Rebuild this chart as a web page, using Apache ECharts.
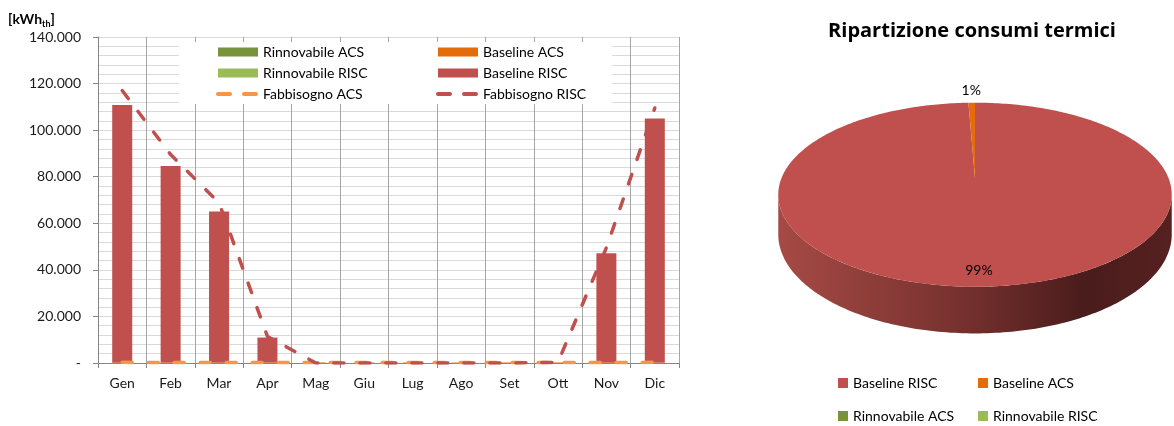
<!DOCTYPE html>
<html>
<head>
<meta charset="utf-8">
<script src="https://cdn.jsdelivr.net/npm/echarts@6/dist/echarts.min.js"></script>
<style>
  html, body { margin: 0; padding: 0; background: #ffffff; }
  #chart { width: 1174px; height: 426px; }
</style>
</head>
<body>
<div id="chart"></div>
<script>
// Monthly thermal consumption [kWh_th]
const months = ['Gen', 'Feb', 'Mar', 'Apr', 'Mag', 'Giu', 'Lug', 'Ago', 'Set', 'Ott', 'Nov', 'Dic'];
const rinnovabileAcs  = [0, 0, 0, 0, 0, 0, 0, 0, 0, 0, 0, 0];
const rinnovabileRisc = [0, 0, 0, 0, 0, 0, 0, 0, 0, 0, 0, 0];
const baselineAcs     = [250, 240, 250, 230, 220, 200, 190, 190, 210, 230, 240, 250];
const baselineRisc    = [110600, 84400, 64800, 10700, 0, 0, 0, 0, 0, 0, 46900, 104700];
const fabbisognoAcs   = [270, 260, 270, 250, 240, 220, 210, 210, 230, 250, 260, 270];
const fabbisognoRisc  = [117000, 89500, 68800, 11400, 0, 0, 0, 0, 0, 300, 49500, 109500];

// Pie slices in drawing order (clockwise from 12 o'clock)
const pieNames = ['Baseline RISC', 'Baseline ACS', 'Rinnovabile ACS', 'Rinnovabile RISC'];
const pieSources = [baselineRisc, baselineAcs, rinnovabileAcs, rinnovabileRisc];

const COLORS = {
  'Rinnovabile ACS': '#77933c',
  'Rinnovabile RISC': '#9bbb59',
  'Baseline ACS': '#e46c0a',
  'Baseline RISC': '#c0504d',
  'Fabbisogno ACS': '#f79646',
  'Fabbisogno RISC': '#c0504d'
};
const FONT = 'Lato, "Open Sans", sans-serif';

const sum = arr => arr.reduce((a, b) => a + b, 0);
const pieTotals = pieSources.map(sum);

// 3D pie in perspective
const PIE = { cx: 975, cy: 178.3, a: 193.6, b: 89.1, k: 0.178, h: 38.4 };
function project(theta, r, drop) {
  const s = r * Math.sin(theta);
  const d = -r * Math.cos(theta);
  const f = 1 / (1 - PIE.k * d);
  return [PIE.cx + PIE.a * s * f, PIE.cy + PIE.b * d * f + drop * f];
}
const SIDE_FROM = Math.acos(-PIE.k);
const SIDE_TO = 2 * Math.PI - Math.acos(-PIE.k);
function arc(t0, t1, drop) {
  const n = Math.max(2, Math.ceil(Math.abs(t1 - t0) / (Math.PI / 180)));
  const pts = [];
  for (let i = 0; i <= n; i++) pts.push(project(t0 + (t1 - t0) * i / n, 1, drop));
  return pts;
}
const sideFill = {
  type: 'linear', x: 778, y: 0, x2: 1172, y2: 0, global: true,
  colorStops: [
    { offset: 0, color: '#a64a45' },
    { offset: 0.45, color: '#78322f' },
    { offset: 0.78, color: '#4a1c1c' },
    { offset: 1, color: '#562120' }
  ]
};

function sliceRenderer(idx) {
  return function (params, api) {
    const total = sum(pieTotals);
    const v = api.value(0);
    if (!v || !total) return { type: 'group', children: [] };
    const before = sum(pieTotals.slice(0, idx));
    const t0 = before / total * 2 * Math.PI;
    const t1 = (before + v) / total * 2 * Math.PI;
    const children = [];
    const s0 = Math.max(t0, SIDE_FROM), s1 = Math.min(t1, SIDE_TO);
    if (s1 > s0) {
      const pts = arc(s0, s1, 0).concat(arc(s1, s0, PIE.h));
      children.push({ type: 'polygon', z2: 0, shape: { points: pts }, style: { fill: sideFill } });
    }
    const top = [project(0, 0, 0)].concat(arc(t0, t1, 0));
    children.push({ type: 'polygon', z2: 10, shape: { points: top }, style: { fill: api.visual('color') } });
    const share = v / total;
    const mid = (t0 + t1) / 2;
    const pos = project(mid, share < 0.05 ? 1.2 : 0.87, 0);
    children.push({
      type: 'text', z2: 20,
      style: {
        text: Math.round(share * 100) + '%', x: pos[0], y: pos[1],
        fill: '#000000', font: '14px ' + FONT,
        align: 'center', verticalAlign: 'middle', textAlign: 'center', textVerticalAlign: 'middle'
      }
    });
    return { type: 'group', children: children };
  };
}

const barSeries = [
  ['Baseline ACS', baselineAcs],
  ['Baseline RISC', baselineRisc],
  ['Rinnovabile ACS', rinnovabileAcs],
  ['Rinnovabile RISC', rinnovabileRisc]
].map(([name, data]) => ({
  name: name, type: 'bar', stack: 'consumi', data: data, barWidth: 20,
  itemStyle: { color: COLORS[name] }
}));

const lineSeries = [
  ['Fabbisogno ACS', fabbisognoAcs],
  ['Fabbisogno RISC', fabbisognoRisc]
].map(([name, data]) => ({
  name: name, type: 'line', data: data, symbol: 'none', showSymbol: false,
  lineStyle: { color: COLORS[name], width: 3.5, type: [10, 16], cap: 'round' },
  itemStyle: { color: COLORS[name] }
}));

const pieSeries = pieNames.map((name, i) => ({
  name: name, type: 'custom', coordinateSystem: 'none', silent: true,
  data: [[pieTotals[i]]],
  itemStyle: { color: COLORS[name] },
  renderItem: sliceRenderer(i)
}));

function itLabel(v) {
  if (v === 0) return '-';
  return String(Math.round(v)).replace(/\B(?=(\d{3})+(?!\d))/g, '.');
}

const legendText = { fontFamily: FONT, fontSize: 14, color: '#000000', lineHeight: 14 };
// dashed line icon without the marker dot
const lineIconStyle = { opacity: 0 };
const lineIconLine = { width: 4, type: [12, 14], cap: 'round' };

const option = {
  animation: false,
  backgroundColor: '#ffffff',
  title: [
    {
      text: '{a|[kWh}{b|th}{a|]}', left: 8, top: 9, padding: 0,
      textStyle: {
        rich: {
          a: { fontFamily: FONT, fontSize: 14, fontWeight: 'bold', color: '#000', lineHeight: 20 },
          b: { fontFamily: FONT, fontSize: 9, fontWeight: 'bold', color: '#000', lineHeight: 10, verticalAlign: 'bottom' }
        }
      }
    },
    {
      text: 'Ripartizione consumi termici', left: 972, top: 21, padding: 0, textAlign: 'center',
      textStyle: { fontFamily: '"Open Sans", Lato, sans-serif', fontSize: 20, fontWeight: 'bold', color: '#000000' }
    }
  ],
  legend: [
    {
      orient: 'vertical', left: 179, top: 42, z: 6,
      padding: [3, 10, 3, 37], backgroundColor: '#ffffff',
      itemWidth: 40, itemHeight: 9, itemGap: 7, selectedMode: false,
      textStyle: legendText,
      data: [
        { name: 'Rinnovabile ACS', icon: 'rect' },
        { name: 'Rinnovabile RISC', icon: 'rect' },
        { name: 'Fabbisogno ACS', itemStyle: lineIconStyle, lineStyle: lineIconLine }
      ]
    },
    {
      orient: 'vertical', left: 330, top: 42, z: 5,
      padding: [3, 26, 3, 106], backgroundColor: '#ffffff',
      itemWidth: 40, itemHeight: 9, itemGap: 7, selectedMode: false,
      textStyle: legendText,
      data: [
        { name: 'Baseline ACS', icon: 'rect' },
        { name: 'Baseline RISC', icon: 'rect' },
        { name: 'Fabbisogno RISC', itemStyle: lineIconStyle, lineStyle: lineIconLine }
      ]
    },
    {
      orient: 'vertical', left: 838, top: 376, padding: 0,
      itemWidth: 10, itemHeight: 10, itemGap: 19, icon: 'rect', selectedMode: false,
      textStyle: legendText,
      data: ['Baseline RISC', 'Rinnovabile ACS']
    },
    {
      orient: 'vertical', left: 978, top: 376, padding: 0,
      itemWidth: 10, itemHeight: 10, itemGap: 19, icon: 'rect', selectedMode: false,
      textStyle: legendText,
      data: ['Baseline ACS', 'Rinnovabile RISC']
    }
  ],
  grid: { left: 98, right: 495, top: 37, bottom: 63, containLabel: false },
  xAxis: {
    type: 'category', data: months, boundaryGap: true,
    axisLine: { lineStyle: { color: '#868686' } },
    axisTick: { show: true, length: 5, lineStyle: { color: '#868686' } },
    axisLabel: { margin: 13, fontFamily: FONT, fontSize: 14, color: '#1a1a1a' },
    splitLine: { show: true, lineStyle: { color: '#a6a6a6', width: 1 } }
  },
  yAxis: {
    type: 'value', min: 0, max: 140000, interval: 20000,
    axisLine: { show: true, lineStyle: { color: '#868686' } },
    axisTick: { show: true, length: 5, lineStyle: { color: '#868686' } },
    axisLabel: { margin: 17, fontFamily: FONT, fontSize: 14, color: '#1a1a1a', formatter: itLabel },
    splitLine: { show: true, lineStyle: { color: '#d9d9d9', width: 1 } },
    minorTick: { show: false, splitNumber: 5 },
    minorSplitLine: { show: true, lineStyle: { color: '#d9d9d9', width: 1 } }
  },
  series: barSeries.concat(lineSeries, pieSeries)
};

const chart = echarts.init(document.getElementById('chart'), null, { renderer: 'canvas' });
chart.setOption(option);
</script>
</body>
</html>
